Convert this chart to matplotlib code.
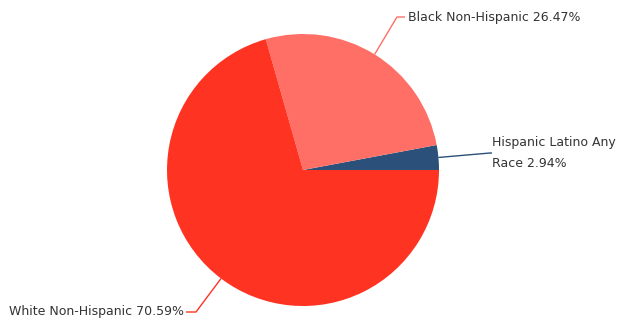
import numpy as np
import matplotlib
matplotlib.use("Agg")
import matplotlib.pyplot as plt

categories = ["Hispanic Latino Any Race", "Black Non-Hispanic", "White Non-Hispanic"]
shares = [2.94, 26.47, 70.59]
label_texts = ["Hispanic Latino Any\nRace 2.94%", "Black Non-Hispanic 26.47%", "White Non-Hispanic 70.59%"]
colors = ["#2b5079", "#ff6f66", "#ff3322"]

W, H = 621, 322
fig = plt.figure(figsize=(W / 100, H / 100), dpi=100)
ax = fig.add_axes([0, 0, 1, 1])

cx, cy, r = 303, H - 170, 136
wedges, _ = ax.pie(shares, colors=colors, startangle=0, counterclock=True,
                   center=(cx, cy), radius=r, frame=True,
                   wedgeprops=dict(linewidth=0))
ax.set_xlim(0, W)
ax.set_ylim(0, H)
ax.set_aspect("equal")
ax.axis("off")

# label layout: (elbow x, elbow y, end x, text x, ha)
layout = [
    (490, H - 153, 492, 492, "left"),
    (397, H - 17, 405, 408, "left"),
    (196, H - 312, 186, 184, "right"),
]

for w, txt, col, (ex, ey, endx, tx, ha) in zip(wedges, label_texts, colors, layout):
    mid = np.deg2rad((w.theta1 + w.theta2) / 2)
    ax0 = cx + r * np.cos(mid)
    ay0 = cy + r * np.sin(mid)
    ax.plot([ax0, ex, endx], [ay0, ey, ey], color=col, lw=1, solid_capstyle="butt")
    ax.text(tx, ey, txt, ha=ha, va="center", fontsize=9.0, color="#333333",
            family="DejaVu Sans", linespacing=1.75)

fig.savefig("out.png", dpi=100)
